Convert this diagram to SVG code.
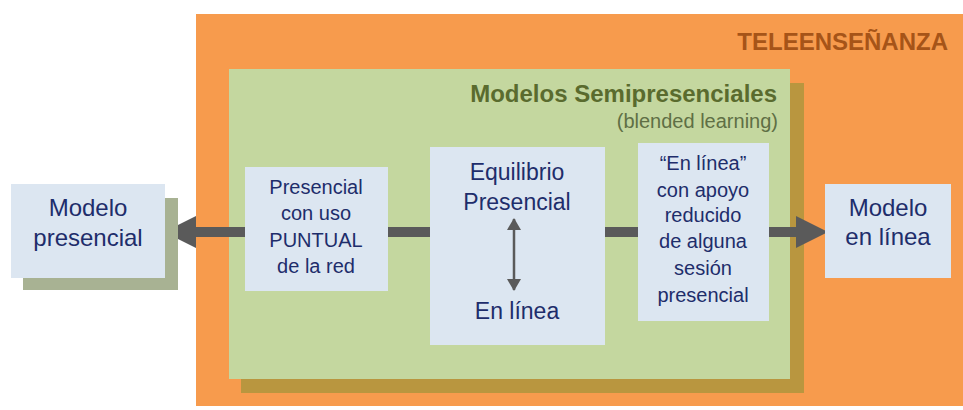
<svg xmlns="http://www.w3.org/2000/svg" width="963" height="410" viewBox="0 0 963 410">
  <style>
    .box { fill: #DCE6F1; }
    .t { font-family: "Liberation Sans", Arial, sans-serif; fill: #1E2D6B; text-anchor: middle; }
    .t24 { font-size: 24px; }
    .t23 { font-size: 23px; }
    .t20 { font-size: 20px; }
    .conn { stroke: #5A5A5A; stroke-width: 10; fill: none; }
    .head { fill: #5A5A5A; }
  </style>
  <defs>
    <marker id="sm" viewBox="0 0 12 14" refX="11" refY="7" markerWidth="12" markerHeight="14" markerUnits="userSpaceOnUse" orient="auto-start-reverse">
      <path d="M0,0 L12,7 L0,14 Z" fill="#5A5A5A"/>
    </marker>
  </defs>
  <rect width="963" height="410" fill="#FFFFFF"/>

  <g id="teleensenanza">
    <rect x="196" y="14" width="767" height="392" fill="#F79B4D"/>
    <text x="948" y="50" font-family="Liberation Sans, Arial, sans-serif" font-size="24" font-weight="bold" fill="#A65418" text-anchor="end">TELEENSEÑANZA</text>
  </g>

  <g id="semipresenciales">
    <rect x="241" y="83" width="563" height="310" fill="#B9963F"/>
    <rect x="229" y="69" width="561" height="310" fill="#C4D79F"/>
    <text x="777" y="102" font-family="Liberation Sans, Arial, sans-serif" font-size="24" font-weight="bold" fill="#5A6B2E" text-anchor="end">Modelos Semipresenciales</text>
    <text x="778" y="128" font-family="Liberation Sans, Arial, sans-serif" font-size="20" fill="#5F6F45" text-anchor="end">(blended learning)</text>
  </g>

  <g id="connectors">
    <path class="conn" d="M245,232 H194"/>
    <polygon class="head" points="196,216 164,232 196,248"/>
    <path class="conn" d="M388,232 H430"/>
    <path class="conn" d="M605,232 H638"/>
    <path class="conn" d="M769,232 H798"/>
    <polygon class="head" points="796,216 828,232 796,248"/>
  </g>

  <g id="modelo-presencial">
    <rect x="23" y="198" width="155" height="92" fill="#A8B293"/>
    <rect class="box" x="11" y="184" width="154" height="94"/>
    <text class="t t24" x="88" y="216">Modelo</text>
    <text class="t t24" x="88" y="246">presencial</text>
  </g>

  <g id="presencial-puntual">
    <rect class="box" x="245" y="167" width="143" height="124"/>
    <text class="t t20" x="316" y="194">Presencial</text>
    <text class="t t20" x="316" y="220">con uso</text>
    <text class="t t20" x="316" y="247">PUNTUAL</text>
    <text class="t t20" x="316" y="273">de la red</text>
  </g>

  <g id="equilibrio">
    <rect class="box" x="430" y="147" width="175" height="198"/>
    <text class="t t23" x="517" y="180">Equilibrio</text>
    <text class="t t23" x="517" y="210">Presencial</text>
    <line x1="514" y1="219" x2="514" y2="290" stroke="#5A5A5A" stroke-width="2.5" marker-start="url(#sm)" marker-end="url(#sm)"/>
    <text class="t t23" x="517" y="319">En línea</text>
  </g>

  <g id="en-linea-apoyo">
    <rect class="box" x="638" y="143" width="131" height="178"/>
    <text class="t t20" x="703" y="170">“En línea”</text>
    <text class="t t20" x="703" y="197">con apoyo</text>
    <text class="t t20" x="703" y="222">reducido</text>
    <text class="t t20" x="703" y="248">de alguna</text>
    <text class="t t20" x="703" y="275">sesión</text>
    <text class="t t20" x="703" y="302">presencial</text>
  </g>

  <g id="modelo-en-linea">
    <rect class="box" x="825" y="184" width="126" height="94"/>
    <text class="t t24" x="888" y="216">Modelo</text>
    <text class="t t24" x="888" y="245">en línea</text>
  </g>
</svg>
